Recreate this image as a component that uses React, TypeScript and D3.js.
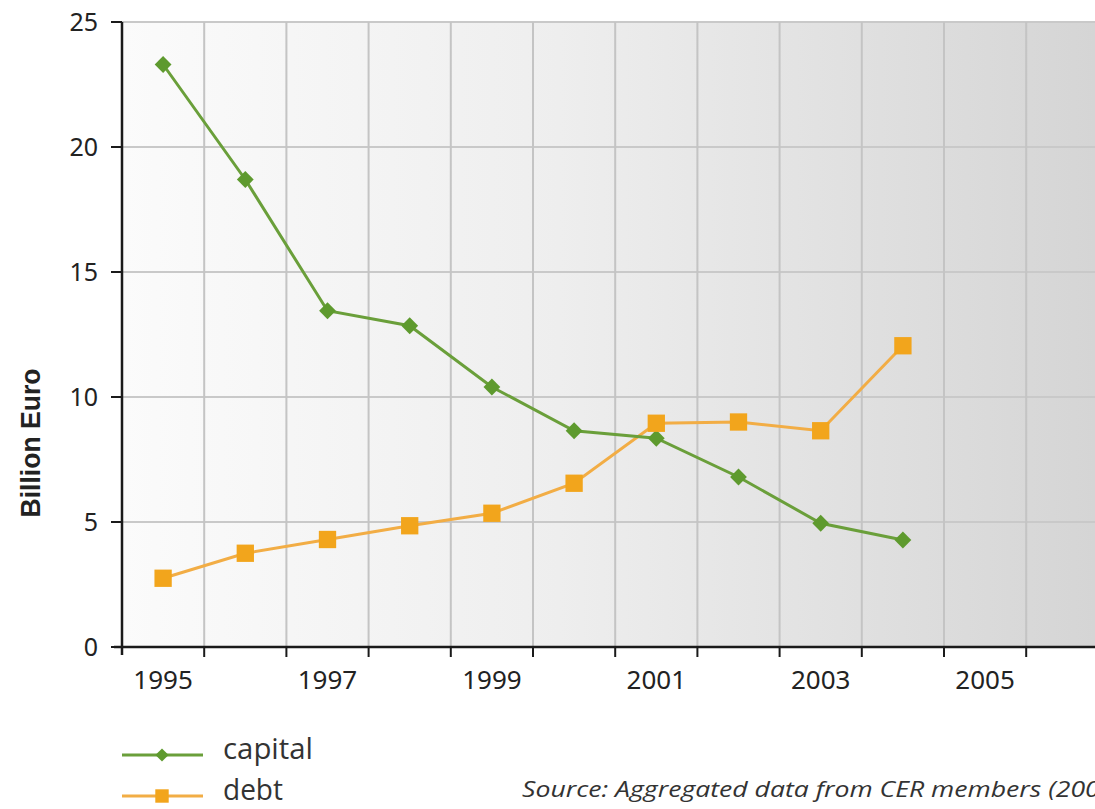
import React, { useEffect, useRef } from 'react';
import * as d3 from 'd3';

const years = ['1995', '1996', '1997', '1998', '1999', '2000', '2001', '2002', '2003', '2004', '2005', '2006'];
const dataYears = ['1995', '1996', '1997', '1998', '1999', '2000', '2001', '2002', '2003', '2004'];
const capital = [23.3, 18.7, 13.45, 12.85, 10.4, 8.65, 8.35, 6.8, 4.95, 4.28];
const debt = [2.75, 3.75, 4.3, 4.85, 5.35, 6.55, 8.95, 9.0, 8.65, 12.05];
const yTicks = [0, 5, 10, 15, 20, 25];
const xLabels = ['1995', '1997', '1999', '2001', '2003', '2005'];

const W = 1095;
const H = 809;

export default function App() {
  const svgRef = useRef<SVGSVGElement>(null);

  useEffect(() => {
    if (!svgRef.current) return;
    const svg = d3.select(svgRef.current);
    svg.selectAll('*').remove();

    const left = 122;
    const top = 22;
    const bottom = 647;
    const band = 82.2;

    const x = d3.scaleBand<string>()
      .domain(years)
      .range([left, left + band * years.length])
      .padding(0);
    const y = d3.scaleLinear().domain([0, 25]).range([bottom, top]);
    const cx = (d: string) => (x(d) || 0) + x.bandwidth() / 2;

    // background gradient
    const defs = svg.append('defs');
    const grad = defs.append('linearGradient').attr('id', 'bg')
      .attr('x1', '0').attr('x2', '1').attr('y1', '0').attr('y2', '0');
    grad.append('stop').attr('offset', '0%').attr('stop-color', '#fbfbfb');
    grad.append('stop').attr('offset', '45%').attr('stop-color', '#eeeeee');
    grad.append('stop').attr('offset', '100%').attr('stop-color', '#d5d5d5');

    svg.append('rect')
      .attr('x', left).attr('y', top)
      .attr('width', W - left).attr('height', bottom - top)
      .attr('fill', 'url(#bg)');

    // grid
    const g = svg.append('g');
    g.selectAll('.hgrid')
      .data(yTicks.filter(d => d > 0))
      .enter().append('line')
      .attr('x1', left).attr('x2', W)
      .attr('y1', d => y(d)).attr('y2', d => y(d))
      .attr('stroke', '#c9c9c9').attr('stroke-width', 2);
    g.selectAll('.vgrid')
      .data(years.slice(1))
      .enter().append('line')
      .attr('x1', d => x(d) || 0).attr('x2', d => x(d) || 0)
      .attr('y1', top).attr('y2', bottom)
      .attr('stroke', '#c4c4c4').attr('stroke-width', 2);

    // axes
    const axisColor = '#1a1a1a';
    const numFont = '"Noto Sans", sans-serif';
    svg.append('line')
      .attr('x1', left).attr('x2', left).attr('y1', top).attr('y2', bottom + 8)
      .attr('stroke', axisColor).attr('stroke-width', 2.5);
    svg.append('line')
      .attr('x1', left - 8).attr('x2', W).attr('y1', bottom).attr('y2', bottom)
      .attr('stroke', axisColor).attr('stroke-width', 2.5);

    svg.selectAll('.ytick')
      .data(yTicks)
      .enter().append('line')
      .attr('x1', left - 11).attr('x2', left)
      .attr('y1', d => y(d)).attr('y2', d => y(d))
      .attr('stroke', axisColor).attr('stroke-width', 2);
    svg.selectAll('.ylab')
      .data(yTicks)
      .enter().append('text')
      .attr('x', left - 24).attr('y', d => y(d))
      .attr('dy', '0.35em')
      .attr('text-anchor', 'end')
      .style('font-family', numFont)
      .style('font-size', '25px')
      .attr('fill', '#222')
      .text(d => String(d));

    svg.selectAll('.xtick')
      .data(years.slice(1))
      .enter().append('line')
      .attr('x1', d => x(d) || 0).attr('x2', d => x(d) || 0)
      .attr('y1', bottom).attr('y2', bottom + 10)
      .attr('stroke', axisColor).attr('stroke-width', 2);
    svg.selectAll('.xlab')
      .data(xLabels)
      .enter().append('text')
      .attr('x', d => cx(d)).attr('y', bottom + 42)
      .attr('text-anchor', 'middle')
      .style('font-family', numFont)
      .style('font-size', '26px')
      .attr('fill', '#222')
      .text(d => d);

    svg.append('text')
      .attr('transform', `translate(40, 443) rotate(-90)`)
      .attr('text-anchor', 'middle')
      .attr('textLength', 149)
      .attr('lengthAdjust', 'spacingAndGlyphs')
      .style('font-family', '"Liberation Sans", sans-serif')
      .style('font-weight', 'bold')
      .style('font-size', '27px')
      .attr('fill', '#222')
      .text('Billion Euro');

    const green = '#6a9f3a';
    const greenMark = '#5e9a2e';
    const orange = '#f2ad45';
    const orangeMark = '#f2a51c';

    const line = d3.line<number>()
      .x((_, i) => cx(dataYears[i]))
      .y(d => y(d));

    svg.append('path').datum(debt)
      .attr('d', line).attr('fill', 'none')
      .attr('stroke', orange).attr('stroke-width', 3);
    svg.append('path').datum(capital)
      .attr('d', line).attr('fill', 'none')
      .attr('stroke', green).attr('stroke-width', 3);

    const diamond = d3.symbol().type(d3.symbolDiamond2).size(180);
    const square = d3.symbol().type(d3.symbolSquare).size(300);

    svg.selectAll('.cm')
      .data(capital)
      .enter().append('path')
      .attr('d', diamond)
      .attr('transform', (d, i) => `translate(${cx(dataYears[i])},${y(d)})`)
      .attr('fill', greenMark);
    svg.selectAll('.dm')
      .data(debt)
      .enter().append('path')
      .attr('d', square)
      .attr('transform', (d, i) => `translate(${cx(dataYears[i])},${y(d)})`)
      .attr('fill', orangeMark);

    // legend
    const legend = [
      { name: 'capital', color: green, mark: greenMark, sym: d3.symbol().type(d3.symbolDiamond2).size(110), y: 755, w: 90 },
      { name: 'debt', color: orange, mark: orangeMark, sym: d3.symbol().type(d3.symbolSquare).size(180), y: 796, w: 60 },
    ];
    const lg = svg.selectAll('.lg').data(legend).enter().append('g');
    lg.append('line')
      .attr('x1', 122).attr('x2', 203)
      .attr('y1', d => d.y).attr('y2', d => d.y)
      .attr('stroke', d => d.color).attr('stroke-width', 3);
    lg.append('path')
      .attr('d', d => d.sym())
      .attr('transform', d => `translate(162,${d.y})`)
      .attr('fill', d => d.mark);
    lg.append('text')
      .attr('x', 223).attr('y', d => d.y + 4)
      .attr('textLength', d => d.w)
      .attr('lengthAdjust', 'spacingAndGlyphs')
      .style('font-family', '"Open Sans", "Liberation Sans", sans-serif')
      .style('font-size', '29px')
      .attr('fill', '#333')
      .text(d => d.name);

    svg.append('text')
      .attr('x', 522).attr('y', 797)
      .attr('textLength', 600)
      .attr('lengthAdjust', 'spacingAndGlyphs')
      .style('font-family', '"Open Sans", "Liberation Sans", sans-serif')
      .style('font-style', 'italic')
      .style('font-size', '21px')
      .attr('fill', '#333')
      .text('Source: Aggregated data from CER members (2005)');
  }, []);

  return (
    <svg
      ref={svgRef}
      width={W}
      height={H}
      style={{ position: 'absolute', left: 0, top: 0, background: '#fff', display: 'block' }}
    />
  );
}
